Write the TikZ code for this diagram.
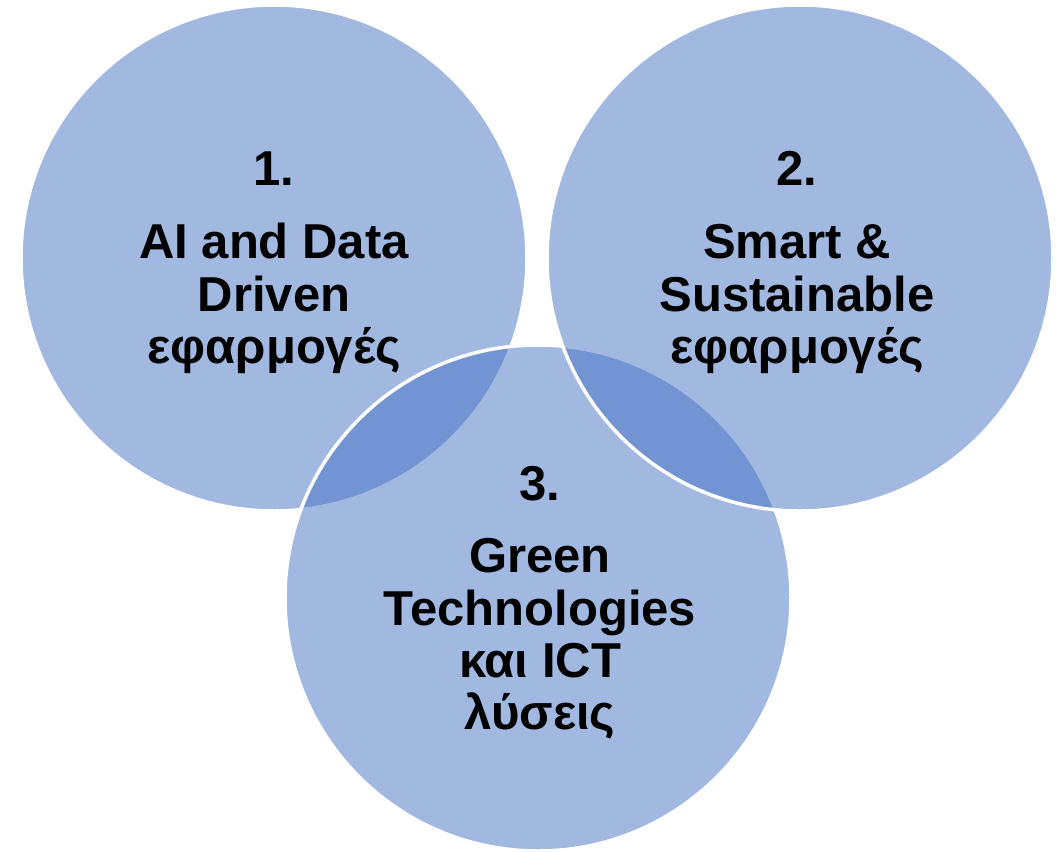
\documentclass[tikz,border=0pt]{standalone}
\usepackage{fontspec}
\setmainfont{Liberation Sans}
\definecolor{accent}{HTML}{4472C4}
\begin{document}
\begin{tikzpicture}[x=1pt,y=-1pt,
  venn/.style={fill=accent,fill opacity=0.5,draw=white,draw opacity=1,line width=3.5pt},
  lbl/.style={anchor=base,inner sep=0pt,font=\fontsize{49}{53}\selectfont\bfseries,text=black}]
\useasboundingbox (0,0) rectangle (1061,852);
\fill[white] (0,0) rectangle (1061,852);
\path[venn] (274,258) circle[radius=253];
\path[venn] (538,598) circle[radius=253];
\path[venn] (800,258) circle[radius=253];
% circle 1
\node[lbl] (n1) at (274,185) {1.};
\node[lbl] (a1) at (274,258) {AI and Data};
\node[lbl] (a2) at (274,311) {Driven};
\node[lbl] (a3) at (274,363) {εφαρμογές};
% circle 2
\node[lbl] (n2) at (797,185) {2.};
\node[lbl] (b1) at (797,258) {Smart \&};
\node[lbl] (b2) at (797,311) {Sustainable};
\node[lbl] (b3) at (797,363) {εφαρμογές};
% circle 3
\node[lbl] (n3) at (540,500) {3.};
\node[lbl] (c1) at (540,572) {Green};
\node[lbl] (c2) at (540,625) {Technologies};
\node[lbl] (c3) at (540,677) {και ICT};
\node[lbl] (c4) at (540,729) {λύσεις};
\end{tikzpicture}
\end{document}
